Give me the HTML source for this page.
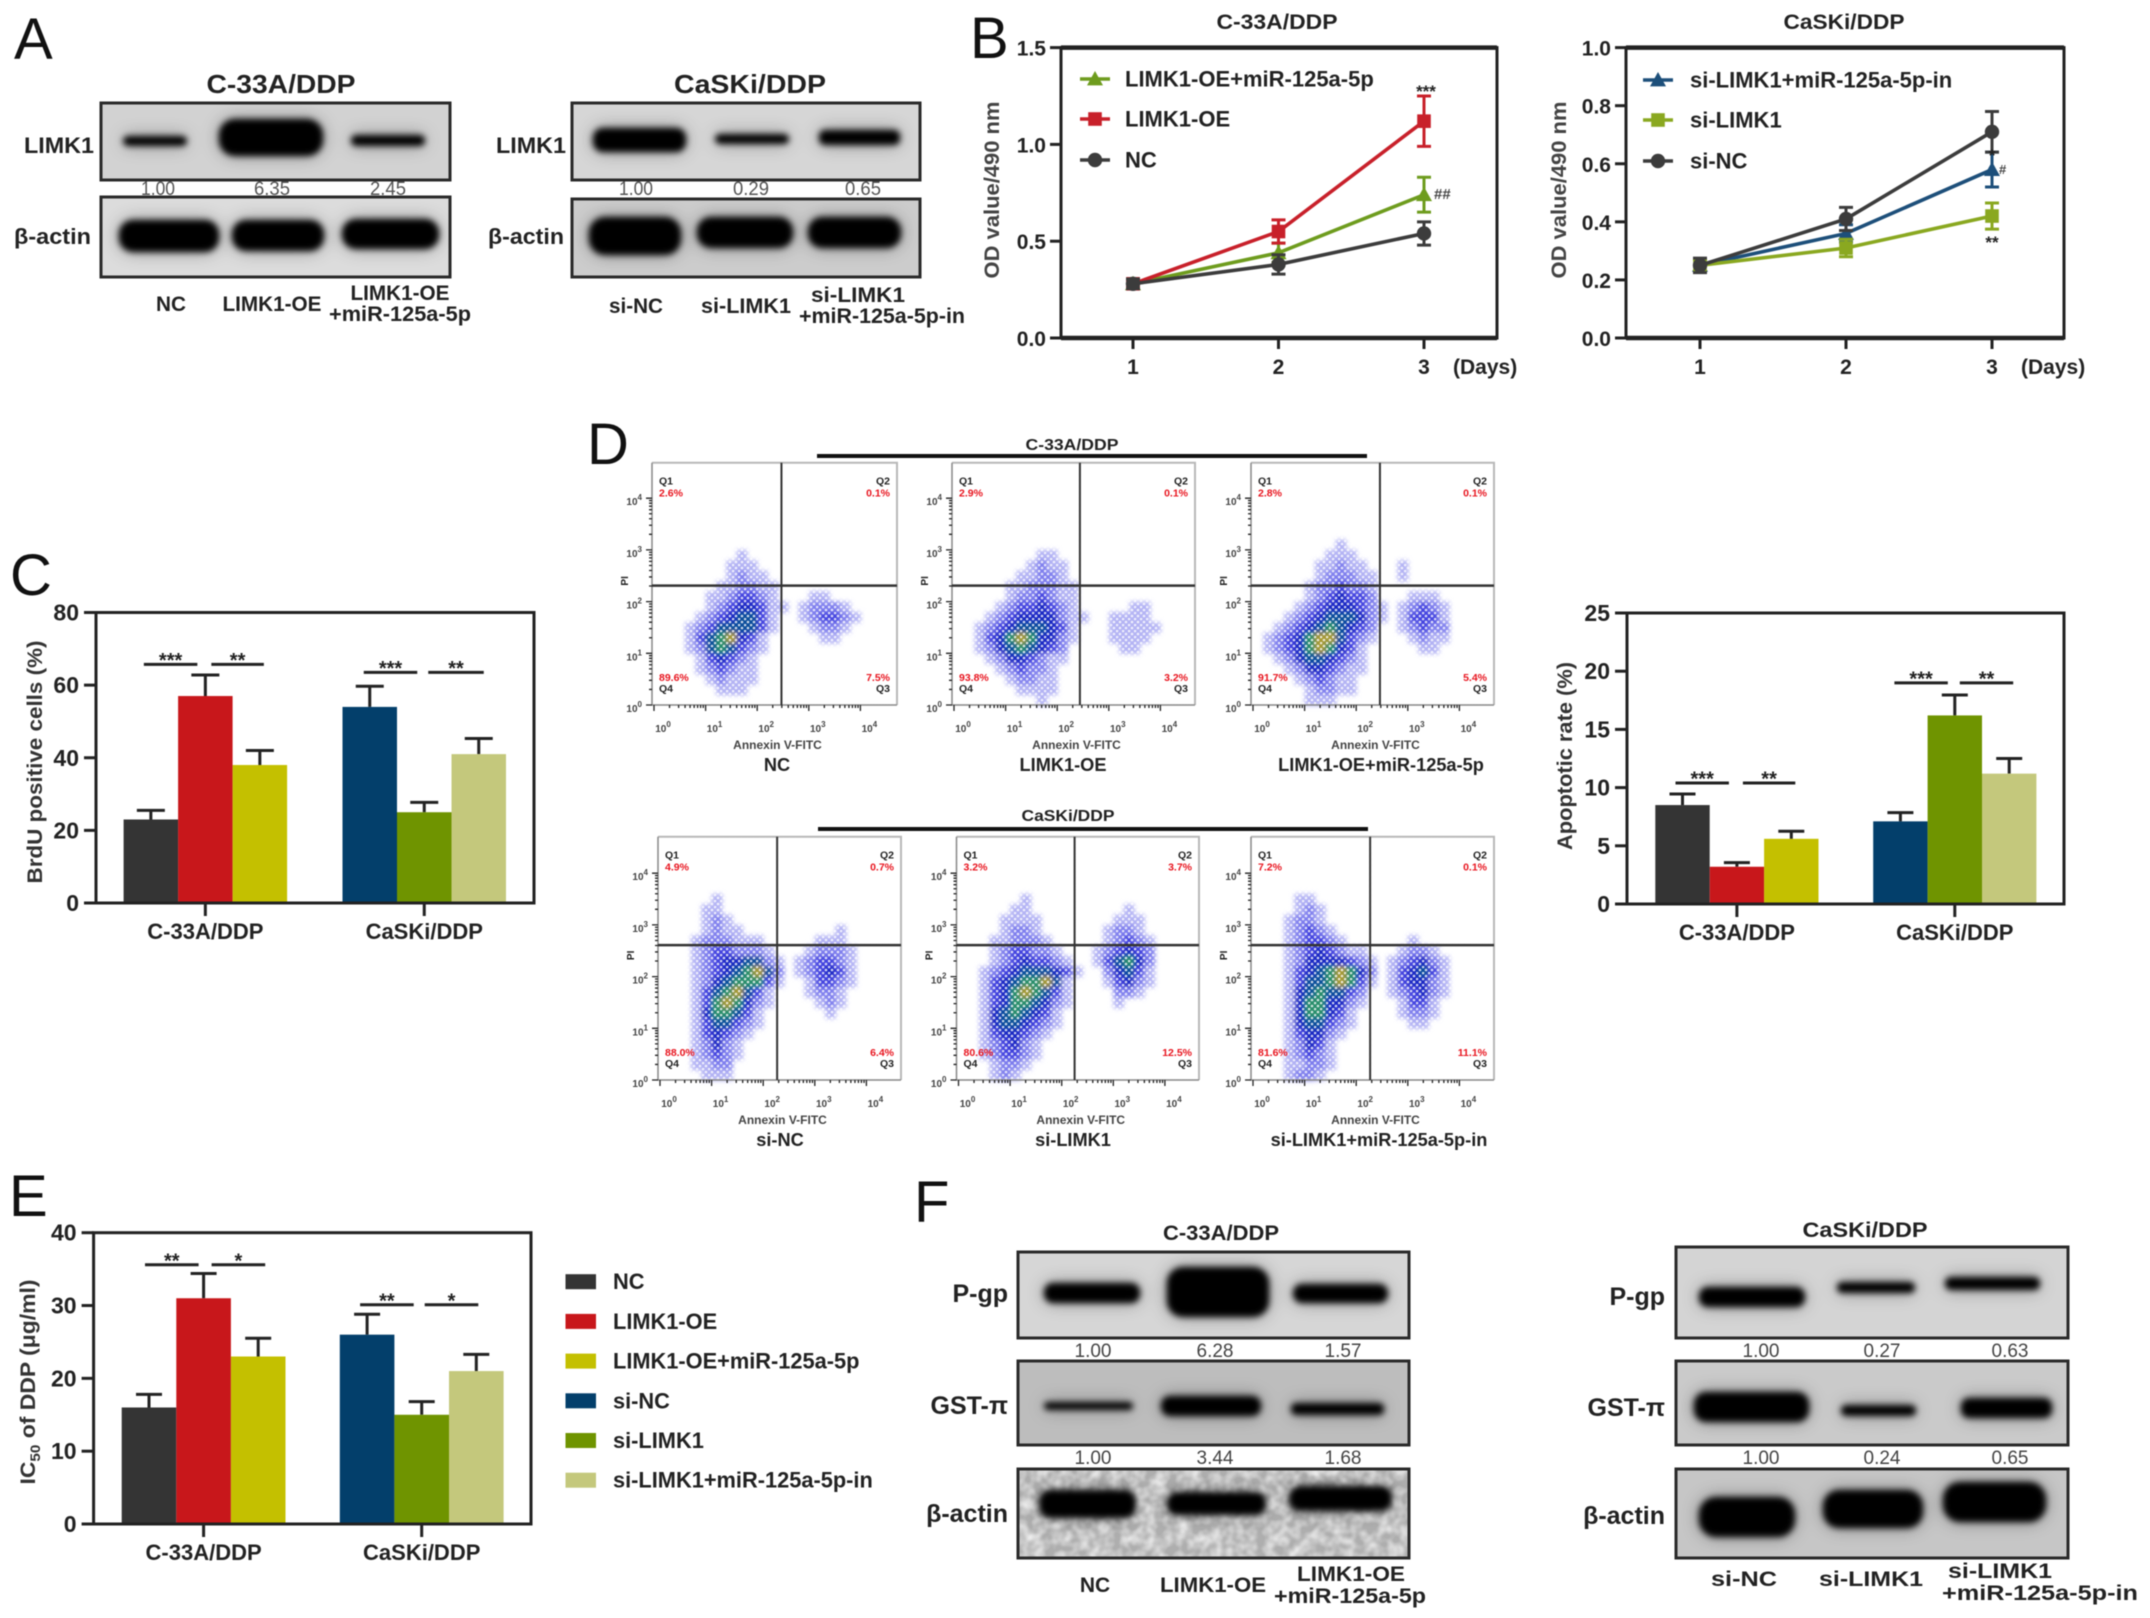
<!DOCTYPE html>
<html lang="en">
<head>
<meta charset="utf-8">
<title>LIMK1 / miR-125a-5p figure</title>
<style>
html,body{margin:0;padding:0;background:#fff;width:2150px;height:1618px;overflow:hidden}
#fig{display:block;filter:blur(.6px);font-family:"Liberation Sans",Arial,sans-serif}
text{fill:#222}
.b{font-weight:700}
.m{text-anchor:middle}
.e{text-anchor:end}
.letter{font-size:58px;fill:#111}
.t{font-size:21px;font-weight:700}
.n{font-size:19px;fill:#555}
.n2{font-size:19px;fill:#444}
.blotframe{fill:none;stroke:#2a2a2a;stroke-width:3}
</style>
</head>
<body>
<svg id="fig" width="2150" height="1618" viewBox="0 0 2150 1618">
<defs>
<filter id="band" x="-20%" y="-150%" width="140%" height="400%">
<feGaussianBlur in="SourceGraphic" stdDeviation="9" result="wide"/>
<feComponentTransfer in="wide" result="halo"><feFuncA type="linear" slope=".38"/></feComponentTransfer>
<feGaussianBlur in="SourceGraphic" stdDeviation="3.2" result="core"/>
<feMerge><feMergeNode in="halo"/><feMergeNode in="core"/></feMerge>
</filter>
<filter id="noise" x="0" y="0" width="100%" height="100%">
<feTurbulence type="fractalNoise" baseFrequency=".09" numOctaves="2" seed="4"/>
<feColorMatrix values="0 0 0 0 .95  0 0 0 0 .95  0 0 0 0 .95  1.5 0 0 0 -.45"/>
</filter>
<filter id="cloud" x="-10%" y="-10%" width="120%" height="120%"><feGaussianBlur stdDeviation="2.3"/></filter>
<pattern id="speck" width="6" height="6" patternUnits="userSpaceOnUse">
<circle cx="1" cy="1" r="1.3" fill="#fff" fill-opacity=".8"/>
<circle cx="4" cy="4" r="1.3" fill="#fff" fill-opacity=".8"/>
</pattern>
</defs>

<!-- PANEL A -->
<g>
<text x="14" y="59" class="letter">A</text>
<text x="281" y="93" class="m" font-size="26" font-weight="700" textLength="149" lengthAdjust="spacingAndGlyphs">C-33A/DDP</text>
<text x="750" y="93" class="m" font-size="26" font-weight="700" textLength="152" lengthAdjust="spacingAndGlyphs">CaSKi/DDP</text>

<svg x="101" y="103" width="349" height="77" viewBox="101 103 349 77">
<rect x="101" y="103" width="349" height="77" fill="#d2d2d2"/>
<g filter="url(#band)" fill="#000"><rect x="123" y="136" width="64" height="10" rx="5"/><rect x="219" y="119" width="104" height="37" rx="16"/><rect x="351" y="135" width="74" height="11" rx="5"/></g>
</svg>
<rect x="101" y="103" width="349" height="77" class="blotframe"/>
<svg x="101" y="197" width="349" height="80" viewBox="101 197 349 80">
<rect x="101" y="197" width="349" height="80" fill="#dcdcdc"/>
<g filter="url(#band)" fill="#000"><rect x="119" y="220" width="100" height="32" rx="14"/><rect x="232" y="220" width="92" height="31" rx="14"/><rect x="342" y="219" width="97" height="30" rx="14"/></g>
</svg>
<rect x="101" y="197" width="349" height="80" class="blotframe"/>

<svg x="572" y="103" width="348" height="77" viewBox="572 103 348 77">
<rect x="572" y="103" width="348" height="77" fill="#d6d6d6"/>
<g filter="url(#band)" fill="#000"><rect x="593" y="128" width="93" height="24" rx="10"/><rect x="715" y="134" width="74" height="10" rx="5"/><rect x="819" y="130" width="81" height="15" rx="6"/></g>
</svg>
<rect x="572" y="103" width="348" height="77" class="blotframe"/>
<svg x="572" y="199" width="348" height="78" viewBox="572 199 348 78">
<rect x="572" y="199" width="348" height="78" fill="#cccccc"/>
<g filter="url(#band)" fill="#000"><rect x="589" y="217" width="92" height="38" rx="16"/><rect x="697" y="217" width="96" height="31" rx="14"/><rect x="808" y="217" width="93" height="31" rx="14"/></g>
</svg>
<rect x="572" y="199" width="348" height="78" class="blotframe"/>

<text x="24" y="153" font-size="22" font-weight="700" textLength="70" lengthAdjust="spacingAndGlyphs">LIMK1</text>
<text x="14" y="244" font-size="22" font-weight="700" textLength="77" lengthAdjust="spacingAndGlyphs">β-actin</text>
<text x="496" y="153" font-size="22" font-weight="700" textLength="70" lengthAdjust="spacingAndGlyphs">LIMK1</text>
<text x="488" y="244" font-size="22" font-weight="700" textLength="76" lengthAdjust="spacingAndGlyphs">β-actin</text>

<text x="158" y="195" class="m n" textLength="34" lengthAdjust="spacingAndGlyphs">1.00</text>
<text x="272" y="195" class="m n" textLength="36" lengthAdjust="spacingAndGlyphs">6.35</text>
<text x="388" y="195" class="m n" textLength="36" lengthAdjust="spacingAndGlyphs">2.45</text>
<text x="636" y="195" class="m n" textLength="34" lengthAdjust="spacingAndGlyphs">1.00</text>
<text x="751" y="195" class="m n" textLength="36" lengthAdjust="spacingAndGlyphs">0.29</text>
<text x="863" y="195" class="m n" textLength="36" lengthAdjust="spacingAndGlyphs">0.65</text>

<text x="171" y="311" class="m t" textLength="30" lengthAdjust="spacingAndGlyphs">NC</text>
<text x="272" y="311" class="m t" textLength="99" lengthAdjust="spacingAndGlyphs">LIMK1-OE</text>
<text x="400" y="300" class="m t" textLength="99" lengthAdjust="spacingAndGlyphs">LIMK1-OE</text>
<text x="400" y="321" class="m t" textLength="142" lengthAdjust="spacingAndGlyphs">+miR-125a-5p</text>
<text x="636" y="313" class="m t" textLength="54" lengthAdjust="spacingAndGlyphs">si-NC</text>
<text x="746" y="313" class="m t" textLength="90" lengthAdjust="spacingAndGlyphs">si-LIMK1</text>
<text x="858" y="302" class="m t" textLength="94" lengthAdjust="spacingAndGlyphs">si-LIMK1</text>
<text x="882" y="323" class="m t" textLength="166" lengthAdjust="spacingAndGlyphs">+miR-125a-5p-in</text>
</g>

<!-- PANEL LETTERS -->
<text x="970" y="58" class="letter" font-size="52">B</text>
<text x="10" y="595" class="letter">C</text>
<text x="587" y="464" class="letter">D</text>
<text x="9" y="1216" class="letter">E</text>
<text x="914" y="1222" class="letter">F</text>

<!-- PANEL F -->
<g>
<text x="1221" y="1240" class="m" font-size="21" font-weight="700" textLength="116" lengthAdjust="spacingAndGlyphs">C-33A/DDP</text>
<text x="1865" y="1237" class="m" font-size="21" font-weight="700" textLength="125" lengthAdjust="spacingAndGlyphs">CaSKi/DDP</text>

<svg x="1018" y="1252" width="391" height="86" viewBox="1018 1252 391 86">
<rect x="1018" y="1252" width="391" height="86" fill="#d6d6d6"/>
<g filter="url(#band)" fill="#000"><rect x="1044" y="1283" width="96" height="20" rx="9"/><rect x="1167" y="1267" width="102" height="50" rx="16"/><rect x="1293" y="1284" width="95" height="19" rx="9"/></g>
</svg>
<rect x="1018" y="1252" width="391" height="86" class="blotframe"/>
<svg x="1018" y="1361" width="391" height="84" viewBox="1018 1361 391 84">
<rect x="1018" y="1361" width="391" height="84" fill="#bdbdbd"/>
<g filter="url(#band)" fill="#000"><rect x="1044" y="1402" width="89" height="8" rx="4"/><rect x="1161" y="1396" width="100" height="20" rx="9"/><rect x="1291" y="1403" width="93" height="12" rx="5"/></g>
</svg>
<rect x="1018" y="1361" width="391" height="84" class="blotframe"/>
<svg x="1018" y="1469" width="391" height="89" viewBox="1018 1469 391 89">
<rect x="1018" y="1469" width="391" height="89" fill="#aeaeae"/>
<rect x="1018" y="1469" width="391" height="89" filter="url(#noise)"/>
<g filter="url(#band)" fill="#000"><rect x="1039" y="1490" width="97" height="28" rx="12"/><rect x="1167" y="1492" width="99" height="23" rx="10"/><rect x="1289" y="1486" width="103" height="25" rx="11"/></g>
</svg>
<rect x="1018" y="1469" width="391" height="89" class="blotframe"/>

<svg x="1676" y="1247" width="392" height="91" viewBox="1676 1247 392 91">
<rect x="1676" y="1247" width="392" height="91" fill="#d4d4d4"/>
<g filter="url(#band)" fill="#000"><rect x="1699" y="1287" width="106" height="20" rx="9"/><rect x="1837" y="1282" width="78" height="11" rx="5"/><rect x="1945" y="1277" width="95" height="13" rx="6"/></g>
</svg>
<rect x="1676" y="1247" width="392" height="91" class="blotframe"/>
<svg x="1676" y="1361" width="392" height="84" viewBox="1676 1361 392 84">
<rect x="1676" y="1361" width="392" height="84" fill="#cacaca"/>
<g filter="url(#band)" fill="#000"><rect x="1694" y="1392" width="115" height="30" rx="12"/><rect x="1841" y="1405" width="75" height="11" rx="5"/><rect x="1961" y="1398" width="91" height="20" rx="8"/></g>
</svg>
<rect x="1676" y="1361" width="392" height="84" class="blotframe"/>
<svg x="1676" y="1469" width="392" height="89" viewBox="1676 1469 392 89">
<rect x="1676" y="1469" width="392" height="89" fill="#c6c6c6"/>
<g filter="url(#band)" fill="#000"><rect x="1699" y="1497" width="96" height="40" rx="17"/><rect x="1823" y="1490" width="100" height="38" rx="16"/><rect x="1943" y="1482" width="103" height="40" rx="17"/></g>
</svg>
<rect x="1676" y="1469" width="392" height="89" class="blotframe"/>

<text x="1008" y="1302" class="e" font-size="25" font-weight="700">P-gp</text>
<text x="1008" y="1414" class="e" font-size="25" font-weight="700">GST-π</text>
<text x="1008" y="1522" class="e" font-size="25" font-weight="700">β-actin</text>
<text x="1665" y="1305" class="e" font-size="25" font-weight="700">P-gp</text>
<text x="1665" y="1416" class="e" font-size="25" font-weight="700">GST-π</text>
<text x="1665" y="1524" class="e" font-size="25" font-weight="700">β-actin</text>

<text x="1093" y="1357" class="m n2">1.00</text>
<text x="1215" y="1357" class="m n2">6.28</text>
<text x="1343" y="1357" class="m n2">1.57</text>
<text x="1761" y="1357" class="m n2">1.00</text>
<text x="1882" y="1357" class="m n2">0.27</text>
<text x="2010" y="1357" class="m n2">0.63</text>
<text x="1093" y="1464" class="m n2">1.00</text>
<text x="1215" y="1464" class="m n2">3.44</text>
<text x="1343" y="1464" class="m n2">1.68</text>
<text x="1761" y="1464" class="m n2">1.00</text>
<text x="1882" y="1464" class="m n2">0.24</text>
<text x="2010" y="1464" class="m n2">0.65</text>

<text x="1095" y="1592" class="m t">NC</text>
<text x="1213" y="1592" class="m t" textLength="106" lengthAdjust="spacingAndGlyphs">LIMK1-OE</text>
<text x="1351" y="1581" class="m t" textLength="108" lengthAdjust="spacingAndGlyphs">LIMK1-OE</text>
<text x="1350" y="1603" class="m t" textLength="152" lengthAdjust="spacingAndGlyphs">+miR-125a-5p</text>
<text x="1744" y="1586" class="m t" textLength="66" lengthAdjust="spacingAndGlyphs">si-NC</text>
<text x="1871" y="1586" class="m t" textLength="104" lengthAdjust="spacingAndGlyphs">si-LIMK1</text>
<text x="2000" y="1578" class="m t" textLength="104" lengthAdjust="spacingAndGlyphs">si-LIMK1</text>
<text x="2040" y="1600" class="m t" textLength="196" lengthAdjust="spacingAndGlyphs">+miR-125a-5p-in</text>
</g>

<!-- PANEL D cohort headers -->
<text x="1072" y="450" class="m" font-size="16" font-weight="700" textLength="93" lengthAdjust="spacingAndGlyphs">C-33A/DDP</text>
<rect x="817" y="454" width="550" height="4" fill="#111"/>
<text x="1068" y="821" class="m" font-size="16" font-weight="700" textLength="93" lengthAdjust="spacingAndGlyphs">CaSKi/DDP</text>
<rect x="818" y="827" width="550" height="4" fill="#111"/>

<g id="charts"></g>
</svg>

<script>
/* ---------- bar chart data ---------- */
const barGroups = ['C-33A/DDP', 'CaSKi/DDP'];
const barSeriesNames = ['NC', 'LIMK1-OE', 'LIMK1-OE+miR-125a-5p', 'si-NC', 'si-LIMK1', 'si-LIMK1+miR-125a-5p-in'];
const brduValues = [23, 57, 38, 54, 25, 41];
const brduErrors = [2.5, 5.8, 4, 5.7, 2.7, 4.3];
const brduTicks = [0, 20, 40, 60, 80];
const brduSigLevels = [65.7, 63.5];
const brduSigStars = [['***', '**'], ['***', '**']];
const apoValues = [8.5, 3.2, 5.6, 7.1, 16.2, 11.2];
const apoErrors = [0.95, 0.35, 0.65, 0.75, 1.75, 1.3];
const apoTicks = [0, 5, 10, 15, 20, 25];
const apoSigLevels = [10.4, 19];
const apoSigStars = [['***', '**'], ['***', '**']];
const icValues = [16, 31, 23, 26, 15, 21];
const icErrors = [1.8, 3.4, 2.5, 2.8, 1.8, 2.3];
const icTicks = [0, 10, 20, 30, 40];
const icSigLevels = [35.6, 30.1];
const icSigStars = [['**', '*'], ['**', '*']];

/* ---------- line chart data ---------- */
const growthDays = [1, 2, 3];
const c33aTicks = [0, 0.5, 1, 1.5];
const caskiTicks = [0, 0.2, 0.4, 0.6, 0.8, 1];
const c33aNames = ['LIMK1-OE+miR-125a-5p', 'LIMK1-OE', 'NC'];
const c33aCombo = [0.28, 0.44, 0.74];
const c33aComboErr = [0.02, 0.05, 0.09];
const c33aOE = [0.28, 0.55, 1.12];
const c33aOEErr = [0.02, 0.06, 0.13];
const c33aNC = [0.28, 0.38, 0.54];
const c33aNCErr = [0.025, 0.05, 0.06];
const caskiNames = ['si-LIMK1+miR-125a-5p-in', 'si-LIMK1', 'si-NC'];
const caskiCombo = [0.25, 0.36, 0.58];
const caskiComboErr = [0.02, 0.03, 0.06];
const caskiSi = [0.25, 0.31, 0.42];
const caskiSiErr = [0.02, 0.03, 0.045];
const caskiNC = [0.25, 0.41, 0.71];
const caskiNCErr = [0.025, 0.04, 0.07];

/* ---------- flow cytometry data (density read per 0.2-decade cell; rows top = log 3.6 .. bottom = log 0) ---------- */
const flowNames = ['NC', 'LIMK1-OE', 'LIMK1-OE+miR-125a-5p', 'si-NC', 'si-LIMK1', 'si-LIMK1+miR-125a-5p-in'];
const flowQ1 = ['2.6%', '2.9%', '2.8%', '4.9%', '3.2%', '7.2%'];
const flowQ2 = ['0.1%', '0.1%', '0.1%', '0.7%', '3.7%', '0.1%'];
const flowQ3 = ['7.5%', '3.2%', '5.4%', '6.4%', '12.5%', '11.1%'];
const flowQ4 = ['89.6%', '93.8%', '91.7%', '88.0%', '80.6%', '81.6%'];
const flowGateX = [2.47, 2.44, 2.46, 2.27, 2.25, 2.27];
const flowGateY = [2.31, 2.31, 2.31, 2.61, 2.61, 2.61];
const flowDecades = [0, 1, 2, 3, 4];
const densityNC = [
'00000000000000000000','00000000000000000000','00000000000000000000','00000000100000000000',
'00000001110000000000','00000001211000000000','00000011221100000000','00000112332100011000',
'00000123443110122210','00001234553100123321','00012355553100012210','00013567431000001100',
'00012565321000000000','00001343210000000000','00001232110000000000','00000121110000000000',
'00000011100000000000','00000000000000000000'];
const densityOE = [
'00000000000000000000','00000000000000000000','00000000000000000000','00000000110000000000',
'00000001211000000000','00000011221000000000','00000112221100000000','00000122321100000000',
'00001233432100000110','00012344442110011110','00123455543100011111','00134676442100011110',
'00124565432000001100','00012443211000000000','00001232210000000000','00000122110000000000',
'00000011110000000000','00000000100000000000'];
const densityCombo = [
'00000000000000000000','00000000000000000000','00000000100000000000','00000001110000000000',
'00000011211000100000','00000012221100100000','00000122322100000000','00000123433200011100',
'00001234443210123210','00012345554210133310','00123456543200123220','01234677532100012110',
'01234676431000001100','00124554321000000000','00012443211000000000','00001232110000000000',
'00000122110000000000','00000111000000000000'];
const densitySiNC = [
'00000100000000000000','00001100000000000000','00001210000000000000','00001211000000000100',
'00012221110000011100','00012332221000122210','00012344552101233210','00012345675201234310',
'00012456663100133210','00013567531000122100','00013676421000012100','00014665310000001000',
'00013553210000000000','00013432100000000000','00012421000000000000','00012321000000000000',
'00011220000000000000','00001110000000000000'];
const densitySiLIMK1 = [
'00000010000000000000','00000110000000001000','00001111000000011100','00001221000000122100',
'00011222100000123210','00012332210001234320','00012343321001356420','00123455543100245310',
'00134566751000134210','00134676531000022100','00134665421000010000','00145654310000000000',
'00145543210000000000','00134432100000000000','00123421000000000000','00123321000000000000',
'00012210000000000000','00012100000000000000'];
const densitySiCombo = [
'00001100000000000000','00001210000000000000','00012210000000000000','00012321000000000000',
'00012332100000010000','00012343211000122100','00012444432101234210','00013456764201345310',
'00013556763101344210','00014565532001234210','00014664421000133100','00014664310000122100',
'00014553210000011000','00013442100000000000','00012431000000000000','00012321000000000000',
'00011221000000000000','00012210000000000000'];
const flowDensities = [densityNC, densityOE, densityCombo, densitySiNC, densitySiLIMK1, densitySiCombo];

/* ---------- rendering ---------- */
const NS = 'http://www.w3.org/2000/svg';
const root = document.getElementById('charts');
const barColors = ['#343434', '#c8171b', '#c4c000', '#033f6b', '#6f9400', '#c4c87c'];
const flowColors = ['none', '#b4b4f4', '#8080ee', '#4444e0', '#1a2ac4', '#10509c', '#2a8f6c', '#a89a34'];

function mk(parent, tag, attrs, txt) {
  const el = document.createElementNS(NS, tag);
  for (const k in attrs) el.setAttribute(k, attrs[k]);
  if (txt !== undefined) el.textContent = txt;
  parent.appendChild(el);
  return el;
}
function starBase(yc, size) { return yc + 0.58 * size; }

function barChart(cfg) {
  const g = mk(root, 'g', {});
  
  
  const yS = v => cfg.bottom - (v / cfg.ymax) * (cfg.bottom - cfg.top);
  const xL = i => cfg.starts[i < 3 ? 0 : 1] + (i % 3) * cfg.barW;
  const cx = i => xL(i) + cfg.barW / 2;
  cfg.values.forEach((v, i) => {
    const err = mk(g, 'path', { d: `M${cx(i)} ${yS(v)}V${yS(v + cfg.errors[i])}M${cx(i) - cfg.cap} ${yS(v + cfg.errors[i])}H${cx(i) + cfg.cap}`, stroke: '#222', 'stroke-width': 3, fill: 'none' });
    
    
    const bar = mk(g, 'rect', { x: xL(i), y: yS(v), width: cfg.barW, height: cfg.bottom - yS(v), fill: barColors[i] });
    
    
  });
  const frame = mk(g, 'rect', { x: cfg.left, y: cfg.top, width: cfg.right - cfg.left, height: cfg.bottom - cfg.top, fill: 'none', stroke: '#222', 'stroke-width': 3 });
  
  
  cfg.ticks.forEach(t => {
    const tk = mk(g, 'line', { x1: cfg.left - 12, x2: cfg.left, y1: yS(t), y2: yS(t), stroke: '#222', 'stroke-width': 3 });
    
    
    const lb = mk(g, 'text', { x: cfg.left - 17, y: yS(t) + 8, 'text-anchor': 'end', 'font-size': 23, 'font-weight': 700 }, t);
    
    
  });
  barGroups.forEach((name, gi) => {
    const c = cfg.starts[gi] + 1.5 * cfg.barW;
    const tk = mk(g, 'line', { x1: c, x2: c, y1: cfg.bottom, y2: cfg.bottom + 13, stroke: '#222', 'stroke-width': 3 });
    
    
    const lb = mk(g, 'text', { x: c, y: cfg.bottom + 36, 'text-anchor': 'middle', 'font-size': 22, 'font-weight': 700 }, name);
    
    
    const lvl = yS(cfg.sigLevels[gi]);
    const off = cfg.sigOff[gi];
    const a = [[cx(gi * 3) + off[0], cx(gi * 3 + 1) + off[1]], [cx(gi * 3 + 1) + off[2], cx(gi * 3 + 2) + off[3]]];
    a.forEach((seg, si) => {
      const ln = mk(g, 'line', { x1: seg[0], x2: seg[1], y1: lvl, y2: lvl, stroke: '#222', 'stroke-width': 3 });
      
      
      const st = mk(g, 'text', { x: (seg[0] + seg[1]) / 2, y: starBase(lvl - 9, 20), 'text-anchor': 'middle', 'font-size': 20, 'font-weight': 700 }, cfg.sigStars[gi][si]);
      
      
    });
  });
  const tx = cfg.titleX, ty = cfg.titleY;
  const title = mk(g, 'text', { x: tx, y: ty, 'text-anchor': 'middle', 'font-size': 21, 'font-weight': 700, fill: '#333', transform: `rotate(-90 ${tx} ${ty})`, textLength: cfg.titleLen, lengthAdjust: 'spacingAndGlyphs' });
  
  
  title.style.fill = '#333';
  cfg.title.forEach(part => {
    mk(title, 'tspan', part.sub ? { 'font-size': 14, dy: 5 } : (part.after ? { dy: -5 } : {}), part.t);
  });
}

barChart({ name: 'brdu-bar-chart', left: 96, right: 534, top: 612.5, bottom: 903, ymax: 80, starts: [123.6, 342.5], barW: 54.5, cap: 14,
  values: brduValues, errors: brduErrors, ticks: brduTicks, sigLevels: brduSigLevels, sigStars: brduSigStars,
  sigOff: [[-7, -8, 6, 4], [-6, -7, 4, 5]], titleX: 42, titleY: 762, titleLen: 243, title: [{ t: 'BrdU positive cells (%)' }] });
barChart({ name: 'apoptosis-bar-chart', left: 1627, right: 2064, top: 613, bottom: 904, ymax: 25, starts: [1655.3, 1873.2], barW: 54.4, cap: 13,
  values: apoValues, errors: apoErrors, ticks: apoTicks, sigLevels: apoSigLevels, sigStars: apoSigStars,
  sigOff: [[-7, -8, 6, 4], [-6, -7, 5, 4]], titleX: 1572, titleY: 756, titleLen: 188, title: [{ t: 'Apoptotic rate (%)' }] });
barChart({ name: 'ic50-bar-chart', left: 93.6, right: 531, top: 1232.7, bottom: 1524, ymax: 40, starts: [121.7, 339.8], barW: 54.6, cap: 13,
  values: icValues, errors: icErrors, ticks: icTicks, sigLevels: icSigLevels, sigStars: icSigStars,
  sigOff: [[-4, -5, 8, 7], [-7, -8, 3, 2]], titleX: 35, titleY: 1382, titleLen: 205, title: [{ t: 'IC' }, { t: '50', sub: true }, { t: ' of DDP (μg/ml)', after: true }] });

/* bar legend */
const barLegend = mk(root, 'g', {});


barSeriesNames.forEach((n, i) => {
  const yc = 1281.7 + i * 39.7;
  const sw = mk(barLegend, 'rect', { x: 565.5, y: yc - 7.5, width: 30.5, height: 15, fill: barColors[i] });
  
  
  const tx = mk(barLegend, 'text', { x: 613, y: yc + 7.5, 'font-size': 21.8, 'font-weight': 700 }, n);
  
  
});

function marker(parent, shape, x, y, r, color) {
  let el;
  if (shape === 'tri') el = mk(parent, 'path', { d: `M${x} ${y - r}L${x + r} ${y + r * 0.8}H${x - r}Z`, fill: color });
  else if (shape === 'sq') el = mk(parent, 'rect', { x: x - r * 0.85, y: y - r * 0.85, width: r * 1.7, height: r * 1.7, fill: color });
  else el = mk(parent, 'circle', { cx: x, cy: y, r: r * 0.9, fill: color });
  
  
}

function lineChart(cfg) {
  const g = mk(root, 'g', {});
  
  
  const yS = v => cfg.bottom - (v / cfg.ymax) * (cfg.bottom - cfg.top);
  const xS = d => cfg.x1 + (d - 1) * (cfg.x3 - cfg.x1) / 2;
  const frame = mk(g, 'path', { d: `M${cfg.left} ${cfg.bottom}V${cfg.top}H${cfg.right}V${cfg.bottom}Z`, fill: 'none', stroke: '#222', 'stroke-width': 3 });
  
  
  const thick = mk(g, 'path', { d: `M${cfg.left} ${cfg.top}H${cfg.right}M${cfg.left} ${cfg.bottom}H${cfg.right}`, stroke: '#222', 'stroke-width': 4.5, fill: 'none' });
  
  
  cfg.ticks.forEach(t => {
    const tk = mk(g, 'line', { x1: cfg.left - 11, x2: cfg.left, y1: yS(t), y2: yS(t), stroke: '#222', 'stroke-width': 3 });
    
    
    const lb = mk(g, 'text', { x: cfg.left - 15, y: yS(t) + 8, 'text-anchor': 'end', 'font-size': 21, 'font-weight': 700 }, t.toFixed(1));
    
    
  });
  growthDays.forEach(d => {
    const tk = mk(g, 'line', { x1: xS(d), x2: xS(d), y1: cfg.bottom, y2: cfg.bottom + 11, stroke: '#222', 'stroke-width': 3 });
    
    
    const lb = mk(g, 'text', { x: xS(d), y: cfg.bottom + 36, 'text-anchor': 'middle', 'font-size': 21, 'font-weight': 700 }, d);
    
    
  });
  const days = mk(g, 'text', { x: cfg.x3 + 29, y: cfg.bottom + 36, 'font-size': 21, 'font-weight': 700 }, '(Days)');
  
  
  const tt = mk(g, 'text', { x: (cfg.left + cfg.right) / 2 + cfg.titleDx, y: 29, 'text-anchor': 'middle', 'font-size': 21, 'font-weight': 700, textLength: 121, lengthAdjust: 'spacingAndGlyphs' }, cfg.title);
  
  
  const yt = mk(g, 'text', { x: cfg.yTitleX, y: 190, 'text-anchor': 'middle', 'font-size': 21, 'font-weight': 700, transform: `rotate(-90 ${cfg.yTitleX} 190)`, textLength: 177, lengthAdjust: 'spacingAndGlyphs' }, 'OD value/490 nm');
  
  
  yt.style.fill = '#444';

  [0, 1, 2].forEach(si => {
    const s = cfg.series[si];
    const line = mk(g, 'polyline', { points: growthDays.map((d, i) => xS(d) + ',' + yS(s.v[i])).join(' '), fill: 'none', stroke: s.color, 'stroke-width': 3.6 });
    
    
    growthDays.forEach((d, i) => {
      const x = xS(d), hi = yS(s.v[i] + s.e[i]), lo = yS(s.v[i] - s.e[i]);
      const eb = mk(g, 'path', { d: `M${x} ${hi}V${lo}M${x - 7} ${hi}H${x + 7}M${x - 7} ${lo}H${x + 7}`, fill: 'none', stroke: s.color, 'stroke-width': 3 });
      
      
      marker(g, s.shape, x, yS(s.v[i]), 8, s.color);
    });
  });
  cfg.series.forEach((s, i) => {
    const yc = cfg.legendY[i];
    const ll = mk(g, 'line', { x1: cfg.legendX, x2: cfg.legendX + 30, y1: yc, y2: yc, stroke: s.color, 'stroke-width': 3.6 });
    
    
    marker(g, s.shape, cfg.legendX + 15, yc, 8, s.color);
    const tx = mk(g, 'text', { x: cfg.legendX + cfg.legendGap, y: yc + 7.5, 'font-size': 22, 'font-weight': 700 }, s.name);
    
    
  });
  cfg.notes.forEach(n => {
    const a = mk(g, 'text', { x: n.x, y: starBase(n.y, 17), 'text-anchor': 'middle', 'font-size': 17, 'font-weight': 700 }, n.t);
    
    
  });
}

lineChart({ name: 'growth-chart-c33a', title: 'C-33A/DDP', titleDx: -2, left: 1061, right: 1497, top: 47.6, bottom: 338, ymax: 1.5, x1: 1133, x3: 1424, ticks: c33aTicks, yTitleX: 999, legendX: 1080, legendGap: 45, legendY: [79, 119, 160],
  series: [
    { name: c33aNames[0], v: c33aCombo, e: c33aComboErr, color: '#6e9c1e', shape: 'tri' },
    { name: c33aNames[1], v: c33aOE, e: c33aOEErr, color: '#c8202a', shape: 'sq' },
    { name: c33aNames[2], v: c33aNC, e: c33aNCErr, color: '#3c3c3c', shape: 'circle' }],
  notes: [{ t: '***', x: 1426, y: 87 }] });
lineChart({ name: 'growth-chart-caski', title: 'CaSKi/DDP', titleDx: -1, left: 1626, right: 2064, top: 47.6, bottom: 338, ymax: 1, x1: 1700, x3: 1992, ticks: caskiTicks, yTitleX: 1566, legendX: 1643, legendGap: 47, legendY: [80, 120, 161],
  series: [
    { name: caskiNames[0], v: caskiCombo, e: caskiComboErr, color: '#1d4f7a', shape: 'tri' },
    { name: caskiNames[1], v: caskiSi, e: caskiSiErr, color: '#8aa820', shape: 'sq' },
    { name: caskiNames[2], v: caskiNC, e: caskiNCErr, color: '#3c3c3c', shape: 'circle' }],
  notes: [{ t: '**', x: 1992, y: 238 }, { t: '*', x: 1992, y: 151 }] });
const noteC = mk(root, 'text', { x: 1434, y: 199, 'font-size': 15, 'font-weight': 700 }, '##');


noteC.style.fill = '#444';
const noteD = mk(root, 'text', { x: 1999, y: 174, 'font-size': 13, 'font-weight': 700 }, '#');


noteD.style.fill = '#444';

const flowPanels = [
  { left: 652, right: 897, top: 462.7, bottom: 705, nameX: 777 },
  { left: 952, right: 1195, top: 462.7, bottom: 705, nameX: 1063 },
  { left: 1251, right: 1494, top: 462.7, bottom: 705, nameX: 1381 },
  { left: 658, right: 901, top: 836.7, bottom: 1080, nameX: 780 },
  { left: 956.5, right: 1199, top: 836.7, bottom: 1080, nameX: 1073 },
  { left: 1251, right: 1494, top: 836.7, bottom: 1080, nameX: 1379 }
];

flowPanels.forEach((p, pi) => {
  const g = mk(root, 'g', {});
  
  
  const decW = 51.6, decH = 51.7;
  const x0 = p.left + 2;
  const xS = l => x0 + l * decW;
  const yS = l => p.bottom - l * decH;

  const cloud = mk(g, 'g', { filter: 'url(#cloud)' });
  
  
  flowDensities[pi].forEach((row, r) => {
    const top = 3.6 - 0.2 * r;
    for (let c = 0; c < row.length; c++) {
      const lvl = +row[c];
      if (!lvl) continue;
      const cell = mk(cloud, 'rect', { x: xS(c * 0.2), y: yS(top), width: decW * 0.2 + 0.6, height: decH * 0.2 + 0.6, fill: flowColors[lvl] });
      
      
    }
  });
  const speck = mk(g, 'rect', { x: p.left, y: p.top, width: p.right - p.left, height: p.bottom - p.top, fill: 'url(#speck)' });
  
  

  const fr = mk(g, 'path', { d: `M${p.left} ${p.top}H${p.right}V${p.bottom}`, fill: 'none', stroke: '#b8b8b8', 'stroke-width': 2 });
  
  
  const ax = mk(g, 'path', { d: `M${p.left} ${p.top}V${p.bottom}H${p.right}`, fill: 'none', stroke: '#888', 'stroke-width': 1.5 });
  
  
  const vg = mk(g, 'line', { x1: xS(flowGateX[pi]), x2: xS(flowGateX[pi]), y1: p.top, y2: p.bottom, stroke: '#333', 'stroke-width': 2 });
  
  
  const hg = mk(g, 'line', { x1: p.left, x2: p.right, y1: yS(flowGateY[pi]), y2: yS(flowGateY[pi]), stroke: '#333', 'stroke-width': 2.5 });
  
  

  let xt = '', yt = '';
  flowDecades.forEach(d => {
    xt += `M${xS(d)} ${p.bottom}v6`;
    yt += `M${p.left} ${yS(d)}h-6`;
    if (d < 4) for (let m = 2; m < 10; m++) {
      xt += `M${xS(d + Math.log10(m))} ${p.bottom}v3`;
      yt += `M${p.left} ${yS(d + Math.log10(m))}h-3`;
    }
    const xl = mk(g, 'text', { x: xS(d) + 9, y: p.bottom + 27, 'text-anchor': 'middle', 'font-size': 10, 'font-weight': 700 });
    
    
    xl.style.fill = '#444';
    mk(xl, 'tspan', {}, '10');
    mk(xl, 'tspan', { dy: -5, 'font-size': 8 }, d);
    const yl = mk(g, 'text', { x: p.left - 10, y: yS(d) + 7, 'text-anchor': 'end', 'font-size': 10, 'font-weight': 700 });
    
    
    yl.style.fill = '#444';
    mk(yl, 'tspan', {}, '10');
    mk(yl, 'tspan', { dy: -5, 'font-size': 8 }, d);
  });
  const xticks = mk(g, 'path', { d: xt, stroke: '#222', 'stroke-width': 1.3, fill: 'none' });
  
  
  const yticks = mk(g, 'path', { d: yt, stroke: '#222', 'stroke-width': 1.3, fill: 'none' });
  
  

  const quad = [
    ['Q1', flowQ1[pi], p.left + 7, 'start', p.top + 18, p.top + 30],
    ['Q2', flowQ2[pi], p.right - 7, 'end', p.top + 18, p.top + 30],
    ['Q4', flowQ4[pi], p.left + 7, 'start', p.bottom - 17, p.bottom - 28],
    ['Q3', flowQ3[pi], p.right - 7, 'end', p.bottom - 17, p.bottom - 28]
  ];
  quad.forEach(q => {
    const a = mk(g, 'text', { x: q[2], y: q[4] + 4, 'text-anchor': q[3], 'font-size': 10.5, 'font-weight': 700 }, q[0]);
    
    
    const b = mk(g, 'text', { x: q[2], y: q[5] + 4, 'text-anchor': q[3], 'font-size': 10.5, 'font-weight': 700 }, q[1]);
    
    
    b.style.fill = '#e8141e';
  });
  const xc = (p.left + p.right) / 2 + 3;
  const annex = mk(g, 'text', { x: xc, y: p.bottom + 44, 'text-anchor': 'middle', 'font-size': 12, 'font-weight': 700 }, 'Annexin V-FITC');
  
  
  annex.style.fill = '#444';
  const pilab = mk(g, 'text', { x: p.left - 24, y: (p.top + p.bottom) / 2 - 3, 'text-anchor': 'middle', 'font-size': 10, 'font-weight': 700, transform: `rotate(-90 ${p.left - 24} ${(p.top + p.bottom) / 2 - 3})` }, 'PI');
  
  
  const nm = mk(g, 'text', { x: p.nameX, y: p.bottom + 66, 'text-anchor': 'middle', 'font-size': 18.2, 'font-weight': 700 }, flowNames[pi]);
  
  
});
</script>
</body>
</html>
